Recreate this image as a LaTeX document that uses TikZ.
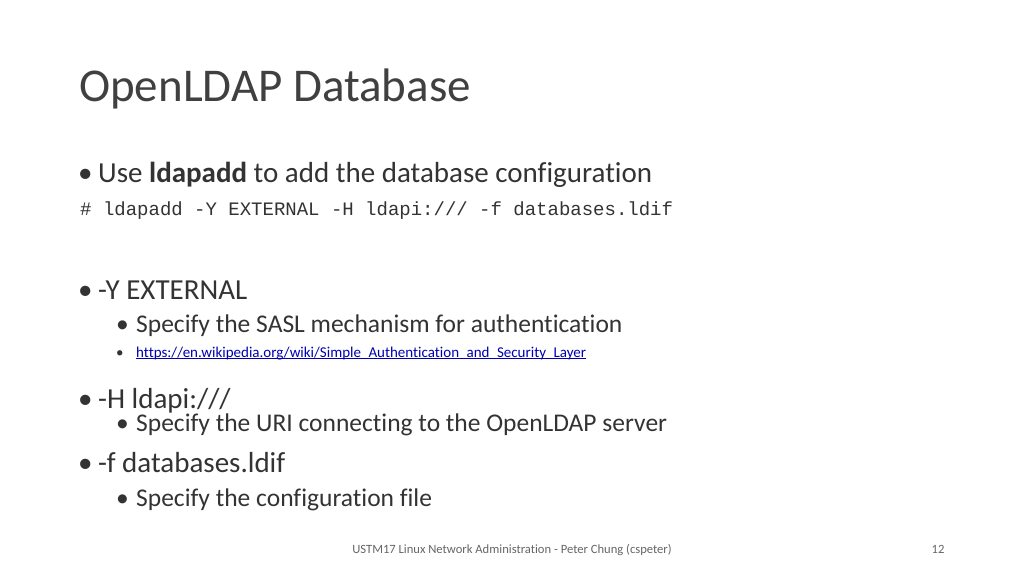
\documentclass[tikz,border=0pt]{standalone}
\usepackage{fontspec}
\setmainfont{Carlito}[Ligatures=NoCommon]
\newfontfamily\monof{Liberation Mono}
\begin{document}
\begin{tikzpicture}[x=1pt,y=-1pt,
  txt/.style={anchor=base west,inner sep=0pt,text=black!80},
  lvlone/.style={txt,font=\fontsize{29}{32}\selectfont},
  lvltwo/.style={txt,font=\fontsize{25.5}{28}\selectfont},
  foot/.style={inner sep=0pt,anchor=base,text=black!60,font=\fontsize{12.6}{14}\selectfont}]
\useasboundingbox[fill=white] (0,0) rectangle (1024,576);
\node[txt,font=\fontsize{47}{50}\selectfont,text=black!75] (title) at (79,101) {OpenLDAP Database};
\node[lvlone] (d1) at (78,182) {\textbullet};
\node[lvlone] (b1) at (98,182) {Use \textbf{ldapadd} to add the database configuration};
\node[txt,font=\monof\fontsize{19}{21}\selectfont] (cmd) at (80,215) {\# ldapadd -Y EXTERNAL -H ldapi:/// -f databases.ldif};
\node[lvlone] (d2) at (78,299) {\textbullet};
\node[lvlone] (b2) at (98,299) {-Y EXTERNAL};
\node[lvltwo] (d21) at (116,332) {\textbullet};
\node[lvltwo] (b21) at (136,332) {Specify the SASL mechanism for authentication};
\node[txt,font=\fontsize{15}{16}\selectfont] (d22) at (116,357) {\textbullet};
\node[txt,font=\fontsize{15}{16}\selectfont,text=blue!70!black] (link) at (136,357) {https://en.wikipedia.org/wiki/Simple\_Authentication\_and\_Security\_Layer};
\draw[blue!70!black,line width=0.6pt] ([yshift=-1.5pt]link.base west) -- ([yshift=-1.5pt]link.base east);
\node[lvlone] (d3) at (78,408) {\textbullet};
\node[lvlone] (b3) at (98,408) {-H ldapi:///};
\node[lvltwo] (d31) at (116,431) {\textbullet};
\node[lvltwo] (b31) at (136,431) {Specify the URI connecting to the OpenLDAP server};
\node[lvlone] (d4) at (78,472) {\textbullet};
\node[lvlone] (b4) at (98,472) {-f databases.ldif};
\node[lvltwo] (d41) at (116,506) {\textbullet};
\node[lvltwo] (b41) at (136,506) {Specify the configuration file};
\node[foot] (f) at (512,553) {USTM17 Linux Network Administration - Peter Chung (cspeter)};
\node[foot] (pg) at (938,553) {12};
\end{tikzpicture}
\end{document}
